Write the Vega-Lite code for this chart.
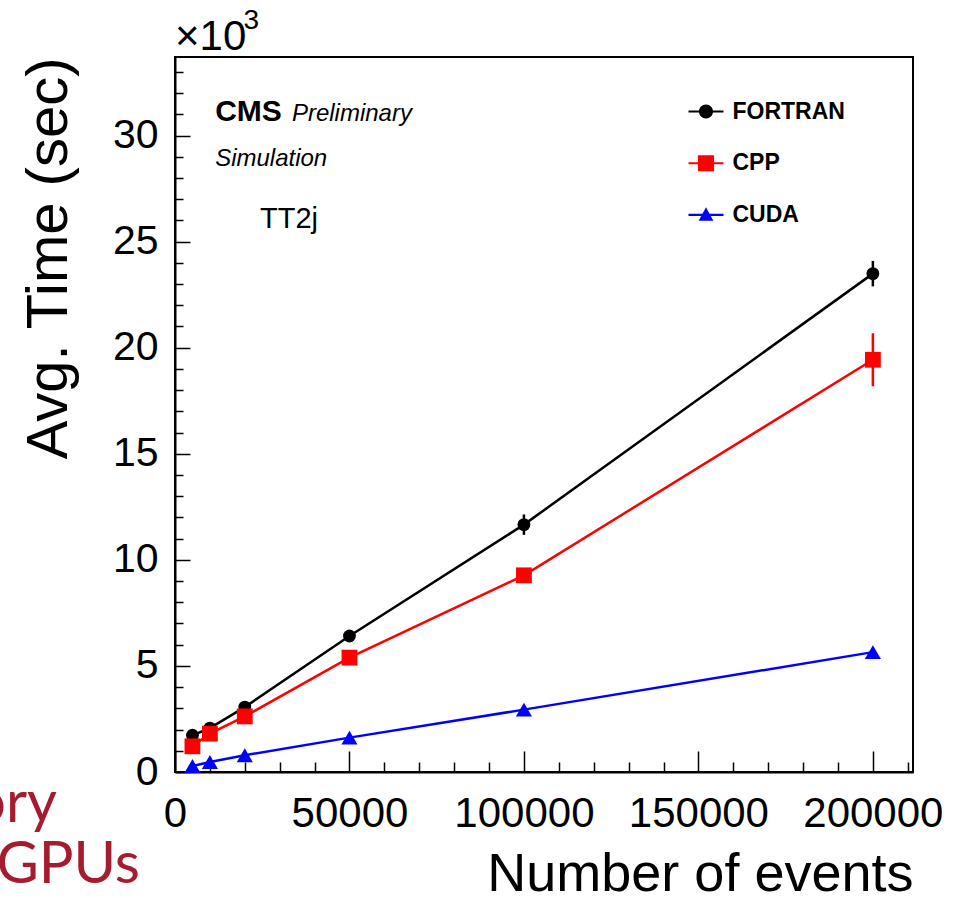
{
  "$schema": "https://vega.github.io/schema/vega-lite/v6.json",
  "width": 738,
  "height": 715,
  "autosize": {"type": "none"},
  "padding": {"left": 175, "top": 57, "right": 54, "bottom": 126},
  "background": "white",
  "config": {
    "view": {"stroke": "black", "strokeWidth": 2},
    "font": "Liberation Sans"
  },
  "datasets": {
    "timing": [
      {"series": "FORTRAN", "events": 5000, "time": 1730, "err": 60},
      {"series": "FORTRAN", "events": 10000, "time": 2070, "err": 70},
      {"series": "FORTRAN", "events": 20000, "time": 3060, "err": 100},
      {"series": "FORTRAN", "events": 50000, "time": 6410, "err": 200},
      {"series": "FORTRAN", "events": 100000, "time": 11660, "err": 480},
      {"series": "FORTRAN", "events": 200000, "time": 23490, "err": 600},
      {"series": "CPP", "events": 5000, "time": 1210, "err": 50},
      {"series": "CPP", "events": 10000, "time": 1810, "err": 60},
      {"series": "CPP", "events": 20000, "time": 2620, "err": 100},
      {"series": "CPP", "events": 50000, "time": 5390, "err": 150},
      {"series": "CPP", "events": 100000, "time": 9270, "err": 300},
      {"series": "CPP", "events": 200000, "time": 19430, "err": 1250},
      {"series": "CUDA", "events": 5000, "time": 280, "err": 20},
      {"series": "CUDA", "events": 10000, "time": 470, "err": 20},
      {"series": "CUDA", "events": 20000, "time": 790, "err": 30},
      {"series": "CUDA", "events": 50000, "time": 1620, "err": 50},
      {"series": "CUDA", "events": 100000, "time": 2940, "err": 100},
      {"series": "CUDA", "events": 200000, "time": 5650, "err": 150}
    ]
  },
  "encoding": {
    "x": {
      "field": "events", "type": "quantitative",
      "scale": {"domain": [0, 211500], "nice": false, "zero": false},
      "title": "Number of events",
      "axis": {
        "values": [0, 10000, 20000, 30000, 40000, 50000, 60000, 70000, 80000, 90000, 100000, 110000, 120000, 130000, 140000, 150000, 160000, 170000, 180000, 190000, 200000, 210000],
        "tickCount": 200,
        "labelExpr": "datum.value % 50000 === 0 ? format(datum.value, 'd') : ''",
        "tickSize": {"condition": {"test": "datum.value % 50000 === 0", "value": -21}, "value": -10},
        "tickColor": "black", "tickWidth": 1.5,
        "domainColor": "black", "domainWidth": 2,
        "grid": false,
        "labelFont": "Liberation Sans", "labelFontSize": 42, "labelColor": "black",
        "labelPadding": 42, "labelFlush": false, "labelOverlap": false,
        "titleFont": "Liberation Sans", "titleFontSize": 54, "titleFontWeight": "normal",
        "titleColor": "black", "titleAnchor": "end", "titlePadding": 2
      }
    },
    "y": {
      "field": "time", "type": "quantitative",
      "scale": {"domain": [0, 33700], "nice": false, "zero": false},
      "title": "Avg. Time (sec)",
      "axis": {
        "values": [0, 1000, 2000, 3000, 4000, 5000, 6000, 7000, 8000, 9000, 10000, 11000, 12000, 13000, 14000, 15000, 16000, 17000, 18000, 19000, 20000, 21000, 22000, 23000, 24000, 25000, 26000, 27000, 28000, 29000, 30000, 31000, 32000, 33000],
        "tickCount": 200,
        "labelExpr": "datum.value % 5000 === 0 ? format(datum.value / 1000, 'd') : ''",
        "tickSize": {"condition": {"test": "datum.value % 5000 === 0", "value": -15}, "value": -8},
        "tickColor": "black", "tickWidth": 1.5,
        "domainColor": "black", "domainWidth": 2,
        "grid": false,
        "labelFont": "Liberation Sans", "labelFontSize": 41, "labelColor": "black",
        "labelPadding": 32, "labelFlush": false, "labelOverlap": false,
        "titleFont": "Liberation Sans", "titleFontSize": 58, "titleFontWeight": "normal",
        "titleColor": "black", "titleAnchor": "end", "titlePadding": 34
      }
    }
  },
  "layer": [
    {
      "data": {"name": "timing"},
      "mark": {"type": "line", "strokeWidth": 2.5},
      "encoding": {
        "color": {
          "field": "series", "type": "nominal",
          "scale": {"domain": ["FORTRAN", "CPP", "CUDA"], "range": ["#000000", "#ff0000", "#0000ff"]},
          "legend": null
        }
      }
    },
    {
      "data": {"name": "timing"},
      "mark": {"type": "errorbar", "thickness": 2.5},
      "encoding": {
        "yError": {"field": "err"},
        "color": {"field": "series", "type": "nominal", "legend": null}
      }
    },
    {
      "data": {"name": "timing"},
      "transform": [{"filter": "datum.series === 'FORTRAN'"}],
      "mark": {"type": "point", "shape": "circle", "filled": true, "opacity": 1, "size": 165, "color": "#000000"}
    },
    {
      "data": {"name": "timing"},
      "transform": [{"filter": "datum.series === 'CPP'"}],
      "mark": {"type": "point", "shape": "square", "filled": true, "opacity": 1, "size": 250, "color": "#ff0000"}
    },
    {
      "data": {"name": "timing"},
      "transform": [{"filter": "datum.series === 'CUDA'"}],
      "mark": {"type": "point", "shape": "triangle-up", "filled": true, "opacity": 1, "size": 260, "color": "#0000ff"}
    },
    {
      "data": {"name": "timing"},
      "mark": {"type": "point", "filled": true, "size": 0, "strokeWidth": 0},
      "encoding": {
        "color": {"field": "series", "type": "nominal", "legend": null},
        "shape": {
          "field": "series", "type": "nominal",
          "sort": ["FORTRAN", "CPP", "CUDA"],
          "scale": {
            "range": [
              "M-1,-0.06H1V0.06H-1Z M0.4,0A0.4,0.4 0 1,1 -0.4,0A0.4,0.4 0 1,1 0.4,0Z",
              "M-1,-0.06H1V0.06H-1Z M-0.46,-0.46H0.46V0.46H-0.46Z",
              "M-1,-0.06H1V0.06H-1Z M0,-0.44L0.42,0.33L-0.42,0.33Z"
            ]
          },
          "legend": {
            "title": null,
            "orient": "none",
            "legendX": 513.5,
            "legendY": 37,
            "padding": 0,
            "symbolSize": 1225,
            "symbolStrokeWidth": 0,
            "symbolOpacity": 1,
            "symbolFillColor": {"expr": "datum.value === 'CPP' ? '#ff0000' : (datum.value === 'CUDA' ? '#0000ff' : '#000000')"},
            "labelFont": "Liberation Sans",
            "labelFontSize": 23,
            "labelFontWeight": "bold",
            "labelColor": "black",
            "labelOffset": 9,
            "rowPadding": 21.7
          }
        }
      }
    },
    {
      "data": {"values": [{"events": 11500, "time": 30700, "label": "CMS"}]},
      "mark": {"type": "text", "align": "left", "baseline": "alphabetic", "font": "Liberation Sans", "fontSize": 30, "fontWeight": "bold", "color": "black"},
      "encoding": {"text": {"field": "label"}}
    },
    {
      "data": {"values": [{"events": 33500, "time": 30700, "label": "Preliminary"}, {"events": 11500, "time": 28540, "label": "Simulation"}]},
      "mark": {"type": "text", "align": "left", "baseline": "alphabetic", "font": "Liberation Sans", "fontSize": 24, "fontStyle": "italic", "color": "black"},
      "encoding": {"text": {"field": "label"}}
    },
    {
      "data": {"values": [{"events": 24360, "time": 25620, "label": "TT2j"}]},
      "mark": {"type": "text", "align": "left", "baseline": "alphabetic", "font": "Liberation Sans", "fontSize": 29, "color": "black"},
      "encoding": {"text": {"field": "label"}}
    },
    {
      "data": {"values": [{"events": 0, "time": 34010, "label": "×10"}]},
      "mark": {"type": "text", "align": "left", "baseline": "alphabetic", "font": "Liberation Sans", "fontSize": 42, "color": "black"},
      "encoding": {"text": {"field": "label"}}
    },
    {
      "data": {"values": [{"events": 19600, "time": 35000, "label": "3"}]},
      "mark": {"type": "text", "align": "left", "baseline": "alphabetic", "font": "Liberation Sans", "fontSize": 28, "color": "black"},
      "encoding": {"text": {"field": "label"}}
    },
    {
      "data": {"values": [{"events": -33820, "time": -2370, "label": "ory"}, {"events": -10030, "time": -5240, "label": "GPUs"}]},
      "mark": {"type": "text", "align": "right", "baseline": "alphabetic", "font": "Lato", "fontSize": 58, "color": "#a51c30"},
      "encoding": {"text": {"field": "label"}}
    }
  ]
}
